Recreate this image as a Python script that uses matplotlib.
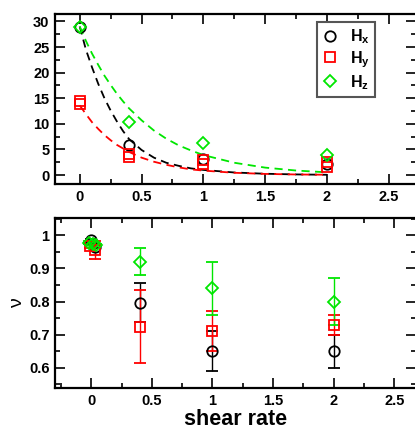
import numpy as np
import matplotlib.pyplot as plt
from matplotlib.ticker import MultipleLocator

plt.rcParams['font.family'] = ['Liberation Sans', 'DejaVu Sans']
plt.rcParams['font.weight'] = 'bold'
plt.rcParams['mathtext.fontset'] = 'custom'
plt.rcParams['mathtext.rm'] = 'Liberation Sans:bold'
plt.rcParams['mathtext.bf'] = 'Liberation Sans:bold'
plt.rcParams['mathtext.it'] = 'Liberation Sans:bold'

# --- top panel: H components vs shear rate ---
hx_x = [0, 0.4, 1, 2]
hx_y = [29.0, 5.85, 3.05, 2.1]
hy_x = [0, 0, 0.4, 0.4, 1, 1, 2, 2]
hy_y = [14.5, 13.9, 4.1, 3.5, 3.0, 2.2, 2.45, 1.65]
hz_x = [0, 0.4, 1, 2]
hz_y = [29.0, 10.3, 6.3, 4.0]

# dashed fit curves
fit_x = [0, 0.05, 0.1, 0.15, 0.2, 0.25, 0.3, 0.35, 0.4, 0.5, 0.6, 0.7, 0.8, 0.9,
         1.0, 1.25, 1.5, 1.75, 2.0]
fit_hx = [29.0, 24.5, 21.0, 17.8, 15.0, 12.6, 10.5, 8.6, 7.0, 4.9, 3.4, 2.4, 1.8,
          1.3, 1.0, 0.5, 0.25, 0.12, 0.05]
fit_hy = [13.6, 11.9, 10.3, 9.0, 7.8, 6.8, 5.9, 5.2, 4.5, 3.4, 2.6, 2.0, 1.5,
          1.1, 0.87, 0.44, 0.22, 0.11, 0.06]
fit_hz = [29.0, 26.2, 23.7, 21.5, 19.4, 17.6, 15.9, 14.4, 13.0, 10.7, 8.7, 7.1,
          5.8, 4.8, 3.9, 2.4, 1.45, 0.88, 0.53]

# --- bottom panel: nu vs shear rate ---
nx_x = [0, 0.03, 0.4, 1, 2]
nx_y = [0.985, 0.965, 0.797, 0.65, 0.65]
nx_e = [0.005, 0.005, 0.06, 0.06, 0.05]
ny_x = [-0.01, 0.03, 0.4, 1, 2]
ny_y = [0.967, 0.955, 0.724, 0.71, 0.73]
ny_e = [0.005, 0.027, 0.11, 0.06, 0.03]
nz_x = [-0.02, 0.01, 0.04, 0.4, 1, 2]
nz_y = [0.978, 0.975, 0.97, 0.92, 0.84, 0.80]
nz_e = [0.004, 0.004, 0.004, 0.04, 0.08, 0.07]

black = 'black'
red = '#ff0000'
green = '#00e600'

fig = plt.figure(figsize=(4.15, 4.30), dpi=100)
ax1 = fig.add_axes([55/415, 1-184/430, 361/415, 170/430])
ax2 = fig.add_axes([55/415, 1-388/430, 361/415, 170/430])

ms = 7.5
dash = (0, (4.5, 3))

ax1.plot(fit_x, fit_hx, color=black, ls=dash, lw=1.3)
ax1.plot(fit_x, fit_hy, color=red, ls=dash, lw=1.3)
ax1.plot(fit_x, fit_hz, color=green, ls=dash, lw=1.3)
ax1.plot(hx_x, hx_y, 'o', mfc='none', mec=black, ms=ms, mew=1.3, label=r'$\mathbf{H_x}$')
ax1.plot(hy_x, hy_y, 's', mfc='none', mec=red, ms=ms-0.5, mew=1.3, label=r'$\mathbf{H_y}$')
ax1.plot(hz_x, hz_y, 'D', mfc='none', mec=green, ms=ms-1.5, mew=1.3, label=r'$\mathbf{H_z}$')

ax1.set_xlim(-0.2, 2.72)
ax1.set_ylim(-1.75, 31.45)
ax1.xaxis.set_minor_locator(MultipleLocator(0.25))
ax1.yaxis.set_major_locator(MultipleLocator(5))
ax1.yaxis.set_minor_locator(MultipleLocator(2.5))
ax1.set_xticks([0, 0.5, 1, 1.5, 2, 2.5])
ax1.set_xticklabels(['0', '0.5', '1', '1.5', '2', '2.5'])

leg = ax1.legend(loc='upper left', bbox_to_anchor=(0.726, 0.955), borderaxespad=0,
                 fontsize=11.5, handlelength=0.9, handletextpad=0.8,
                 labelspacing=0.2, borderpad=0.35, fancybox=False, framealpha=1)
leg.get_frame().set_edgecolor('#555555')
leg.get_frame().set_linewidth(1.5)

ax2.errorbar(nx_x, nx_y, yerr=nx_e, fmt='o', mfc='none', mec=black, ecolor=black,
             ms=ms, mew=1.3, elinewidth=1.0, capsize=4, capthick=1.0)
ax2.errorbar(ny_x, ny_y, yerr=ny_e, fmt='s', mfc='none', mec=red, ecolor=red,
             ms=ms-0.5, mew=1.3, elinewidth=1.0, capsize=4, capthick=1.0)
ax2.errorbar(nz_x, nz_y, yerr=nz_e, fmt='D', mfc='none', mec=green, ecolor=green,
             ms=ms-1.5, mew=1.3, elinewidth=1.0, capsize=4, capthick=1.0)

ax2.set_xlim(-0.3, 2.68)
ax2.set_ylim(0.539, 1.052)
ax2.set_xticks([0, 0.5, 1, 1.5, 2, 2.5])
ax2.set_xticklabels(['0', '0.5', '1', '1.5', '2', '2.5'])
ax2.xaxis.set_minor_locator(MultipleLocator(0.25))
ax2.set_yticks([0.6, 0.7, 0.8, 0.9, 1.0])
ax2.set_yticklabels(['0.6', '0.7', '0.8', '0.9', '1'])
ax2.yaxis.set_minor_locator(MultipleLocator(0.05))
ax2.set_xlabel('shear rate', fontsize=15.5, fontweight='bold', labelpad=1)
ax2.set_ylabel('ν', fontsize=14, fontweight='normal', labelpad=2)

for ax in (ax1, ax2):
    for s in ax.spines.values():
        s.set_linewidth(1.6)
    ax.tick_params(which='both', direction='in', top=True, right=True, width=1.2,
                   labelsize=10.5, pad=4)
    ax.tick_params(which='major', length=7)
    ax.tick_params(which='minor', length=3.5)
    for lab in ax.get_xticklabels() + ax.get_yticklabels():
        lab.set_fontweight('bold')

fig.savefig('out.png', dpi=100)
